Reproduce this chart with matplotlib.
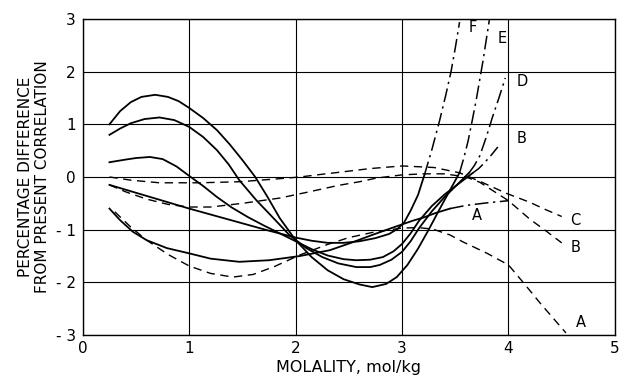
"""Percentage difference from present correlation vs molality."""

import matplotlib

matplotlib.use("Agg")
import matplotlib.pyplot as plt

# solid parts (fitted range) and dash-dot parts (extrapolation) of each curve
e_x = [0.25, 0.35, 0.45, 0.55, 0.68, 0.8, 0.9, 1.0, 1.13, 1.26, 1.38, 1.5, 1.62, 1.73,
       1.85, 2.0, 2.15, 2.3, 2.45, 2.6, 2.72, 2.85, 2.95, 3.05, 3.15, 3.25, 3.35, 3.45, 3.54]
e_y = [1.0, 1.25, 1.42, 1.52, 1.56, 1.52, 1.44, 1.31, 1.12, 0.89, 0.62, 0.32, 0.0, -0.36,
       -0.78, -1.2, -1.52, -1.77, -1.94, -2.04, -2.09, -2.03, -1.9, -1.67, -1.36, -1.0,
       -0.62, -0.25, 0.08]
e_ext_x = [3.54, 3.58, 3.62, 3.66, 3.70, 3.76, 3.82]
e_ext_y = [0.08, 0.36, 0.68, 1.08, 1.5, 2.2, 2.98]

d_x = [0.25, 0.35, 0.45, 0.58, 0.72, 0.86, 1.0, 1.13, 1.26, 1.37, 1.47, 1.63, 1.8, 1.94,
       2.1, 2.25, 2.4, 2.57, 2.7, 2.79, 2.9, 3.0, 3.08, 3.16, 3.28, 3.4, 3.52, 3.63]
d_y = [0.8, 0.92, 1.02, 1.1, 1.13, 1.08, 0.95, 0.76, 0.51, 0.24, -0.06, -0.44, -0.8, -1.1,
       -1.35, -1.52, -1.64, -1.71, -1.71, -1.67, -1.57, -1.42, -1.22, -0.97, -0.65, -0.38,
       -0.14, 0.08]
d_ext_x = [3.63, 3.68, 3.73, 3.79, 3.85, 3.91, 3.97]
d_ext_y = [0.08, 0.22, 0.4, 0.75, 1.14, 1.5, 1.88]

b_x = [0.25, 0.4, 0.5, 0.63, 0.75, 0.88, 1.0, 1.13, 1.26, 1.4, 1.55, 1.7, 1.85, 2.0, 2.15,
       2.3, 2.45, 2.57, 2.7, 2.82, 2.92, 3.0, 3.08, 3.16, 3.28, 3.4, 3.53, 3.66]
b_y = [0.28, 0.33, 0.36, 0.38, 0.34, 0.2, 0.02, -0.17, -0.38, -0.58, -0.76, -0.92, -1.07,
       -1.22, -1.37, -1.49, -1.56, -1.58, -1.57, -1.52, -1.41, -1.27, -1.07, -0.83, -0.55,
       -0.33, -0.13, 0.07]
b_ext_x = [3.66, 3.72, 3.77, 3.84, 3.9]
b_ext_y = [0.07, 0.16, 0.26, 0.42, 0.57]

f_x = [0.25, 0.4, 0.6, 0.8, 1.0, 1.25, 1.5, 1.75, 2.0, 2.15, 2.3, 2.45, 2.6, 2.75, 2.88,
       2.96, 3.02, 3.08, 3.15, 3.21]
f_y = [-0.15, -0.24, -0.36, -0.48, -0.6, -0.74, -0.88, -1.02, -1.15, -1.21, -1.25, -1.25,
       -1.22, -1.16, -1.08, -0.98, -0.86, -0.64, -0.34, 0.04]
f_ext_x = [3.21, 3.28, 3.35, 3.41, 3.46, 3.5, 3.54]
f_ext_y = [0.04, 0.52, 1.05, 1.55, 2.0, 2.45, 2.94]

a_x = [0.25, 0.35, 0.47, 0.6, 0.79, 1.0, 1.2, 1.47, 1.75, 2.04, 2.32, 2.52, 2.72, 2.9, 3.0,
       3.1, 3.2, 3.32, 3.45]
a_y = [-0.6, -0.82, -1.04, -1.2, -1.35, -1.45, -1.55, -1.61, -1.58, -1.5, -1.39, -1.25,
       -1.1, -0.97, -0.9, -0.83, -0.77, -0.68, -0.6]
a_ext_x = [3.45, 3.6, 3.8, 4.0]
a_ext_y = [-0.6, -0.54, -0.49, -0.45]

# dashed curves
c_dash_x = [0.25, 0.45, 0.72, 1.1, 1.47, 1.8, 2.04, 2.2, 2.41, 2.7, 3.0, 3.3, 3.54, 3.75,
            3.98, 4.2, 4.35, 4.5]
c_dash_y = [0.0, -0.06, -0.11, -0.11, -0.09, -0.04, 0.0, 0.04, 0.09, 0.16, 0.21, 0.18, 0.08,
            -0.1, -0.31, -0.48, -0.62, -0.75]

b_dash_x = [0.25, 0.4, 0.6, 0.8, 1.0, 1.2, 1.5, 1.85, 2.13, 2.4, 2.6, 2.76, 3.0, 3.2, 3.4,
            3.6, 3.73, 3.9, 4.0, 4.2, 4.35, 4.5]
b_dash_y = [-0.15, -0.28, -0.42, -0.52, -0.57, -0.57, -0.5, -0.4, -0.28, -0.16, -0.09, -0.02,
            0.04, 0.06, 0.06, 0.0, -0.1, -0.32, -0.45, -0.8, -1.02, -1.25]

a_dash_x = [0.3, 0.45, 0.6, 0.8, 1.0, 1.2, 1.41, 1.6, 1.8, 2.04, 2.3, 2.5, 2.75, 3.0, 3.15,
            3.29, 3.45, 3.57, 3.8, 4.0, 4.15, 4.3, 4.45, 4.54]
a_dash_y = [-0.66, -0.95, -1.2, -1.47, -1.69, -1.83, -1.9, -1.85, -1.7, -1.48, -1.28, -1.15,
            -1.04, -0.97, -0.96, -0.99, -1.1, -1.23, -1.45, -1.67, -2.03, -2.4, -2.75, -2.96]

# curve labels: text, x, y
labels = [("F", 3.63, 2.83), ("E", 3.9, 2.62), ("D", 4.08, 1.82), ("B", 4.08, 0.74),
          ("A", 3.66, -0.74), ("C", 4.58, -0.82), ("B", 4.58, -1.34), ("A", 4.63, -2.76)]

x_ticks = [0, 1, 2, 3, 4, 5]
y_ticks = [-3, -2, -1, 0, 1, 2, 3]

fig = plt.figure(figsize=(6.23, 3.79), dpi=100)
ax = fig.add_axes([0.133, 0.116, 0.854, 0.834])

solid = dict(color="black", lw=1.3, solid_joinstyle="round")
dashdot = dict(color="black", lw=1.1, dashes=(9, 3, 1.5, 3))
dashed = dict(color="black", lw=1.0, dashes=(6, 4))

for xs, ys in [(e_x, e_y), (d_x, d_y), (b_x, b_y), (f_x, f_y), (a_x, a_y)]:
    ax.plot(xs, ys, **solid)
for xs, ys in [(e_ext_x, e_ext_y), (d_ext_x, d_ext_y), (b_ext_x, b_ext_y),
               (f_ext_x, f_ext_y), (a_ext_x, a_ext_y)]:
    ax.plot(xs, ys, **dashdot)
for xs, ys in [(c_dash_x, c_dash_y), (b_dash_x, b_dash_y), (a_dash_x, a_dash_y)]:
    ax.plot(xs, ys, **dashed)

for text, lx, ly in labels:
    ax.text(lx, ly, text, fontsize=10.5, ha="left", va="center")

ax.set_xlim(0, 5)
ax.set_ylim(-3, 3)
ax.set_xticks(x_ticks)
ax.set_yticks(y_ticks)
ax.set_xticklabels([str(v) for v in x_ticks], fontsize=11)
ax.set_yticklabels([str(v).replace("-", "- ") for v in y_ticks], fontsize=11)
ax.tick_params(axis="x", length=0, pad=4)
ax.tick_params(axis="y", length=0, pad=5)
ax.grid(True, color="black", lw=0.8)
for spine in ax.spines.values():
    spine.set_linewidth(1.0)

ax.set_xlabel("MOLALITY, mol/kg", fontsize=11.5, labelpad=3)
ax.set_ylabel("PERCENTAGE DIFFERENCE\nFROM PRESENT CORRELATION", fontsize=11,
              labelpad=4, linespacing=1.2)

fig.savefig("out.png", dpi=100)
